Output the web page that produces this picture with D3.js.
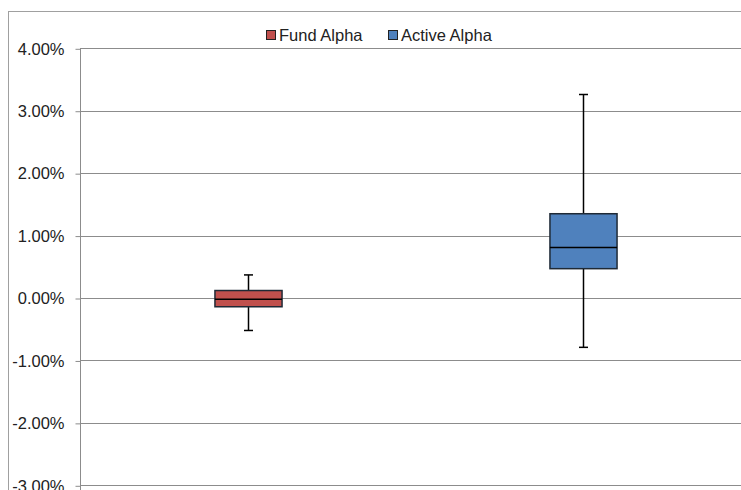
<!DOCTYPE html>
<html>
<head>
<meta charset="utf-8">
<script src="https://cdn.jsdelivr.net/npm/d3@7"></script>
<style>
  body { margin: 0; background: #fff; }
  svg { display: block; font-family: "Liberation Sans", Arial, sans-serif; }
</style>
</head>
<body>
<div id="chart"><svg width="741" height="490"></svg></div>
<script>
// data, in percent
const categories = ["Fund Alpha", "Active Alpha"];
const colors = ["#C0504D", "#4F81BD"];
const whiskerLow = [-0.52, -0.79];
const boxLow = [-0.14, 0.47];
const medians = [-0.02, 0.81];
const boxHigh = [0.12, 1.35];
const whiskerHigh = [0.37, 3.26];
const yTicks = [-3, -2, -1, 0, 1, 2, 3, 4];

var svg = d3.select('#chart').select('svg');

var plot = {left: 80, right: 751, top: 48.3, bottom: 485.3};

var x = d3.scaleBand()
    .domain(categories)
    .range([plot.left, plot.right]);

var y = d3.scaleLinear()
    .domain([-3, 4])
    .range([plot.bottom, plot.top]);

// outer frame
svg.append('rect')
    .attr('x', 8.5).attr('y', 11.5)
    .attr('width', 760).attr('height', 500)
    .attr('fill', 'none')
    .attr('stroke', '#a0a0a0');

// gridlines
svg.append('g').selectAll('line').data(yTicks).join('line')
    .attr('x1', plot.left).attr('x2', 741)
    .attr('y1', d => Math.round(y(d)) + 0.5)
    .attr('y2', d => Math.round(y(d)) + 0.5)
    .attr('stroke', '#8c8c8c');

// y axis
var yAxis = d3.axisLeft(y)
    .tickValues(yTicks)
    .tickSize(5)
    .tickFormat(d => d.toFixed(2) + '%');

var ag = svg.append('g')
    .attr('transform', 'translate(' + (plot.left + 0.5) + ',0.5)')
    .call(yAxis);
ag.select('.domain').attr('stroke', '#8c8c8c').attr('d', 'M0,' + plot.top + 'V490');
ag.selectAll('.tick line').attr('stroke', '#8c8c8c');
ag.selectAll('.tick text')
    .attr('x', -16)
    .attr('fill', '#222')
    .style('font-size', '16.5px')
    .style('font-family', '"Liberation Sans", Arial, sans-serif');

// boxes
var boxes = categories.map((c, i) => ({
    name: c, color: colors[i],
    lo: whiskerLow[i], q1: boxLow[i], med: medians[i], q3: boxHigh[i], hi: whiskerHigh[i]
}));

var bw = x.bandwidth() * 0.2;
var g = svg.append('g').selectAll('g').data(boxes).join('g');

var cx = d => Math.round(x(d.name) + x.bandwidth() / 2) + 0.5;

g.append('line')
    .attr('x1', cx).attr('x2', cx)
    .attr('y1', d => y(d.hi)).attr('y2', d => y(d.lo))
    .attr('stroke', '#000').attr('stroke-width', 1.5);

g.selectAll('.cap').data(d => [d.hi, d.lo].map(v => ({v: v, d: d}))).join('line')
    .attr('x1', e => cx(e.d) - 4.5).attr('x2', e => cx(e.d) + 4.5)
    .attr('y1', e => y(e.v)).attr('y2', e => y(e.v))
    .attr('stroke', '#000').attr('stroke-width', 1.5);

g.append('rect')
    .attr('x', d => cx(d) - bw / 2)
    .attr('y', d => y(d.q3))
    .attr('width', bw)
    .attr('height', d => y(d.q1) - y(d.q3))
    .attr('fill', d => d.color)
    .attr('stroke', '#1f2a36').attr('stroke-width', 1.5);

g.append('line')
    .attr('x1', d => cx(d) - bw / 2).attr('x2', d => cx(d) + bw / 2)
    .attr('y1', d => y(d.med)).attr('y2', d => y(d.med))
    .attr('stroke', '#000').attr('stroke-width', 1.5);

// legend
var legend = svg.append('g').attr('transform', 'translate(266,35)');
categories.forEach((c, i) => {
    var item = legend.append('g').attr('transform', 'translate(' + (i * 122) + ',0)');
    item.append('rect')
        .attr('x', 0.5).attr('y', -4.5)
        .attr('width', 9).attr('height', 9)
        .attr('fill', colors[i]).attr('stroke', '#222');
    item.append('text')
        .attr('x', 13).attr('y', 0)
        .attr('dy', '0.35em')
        .attr('fill', '#222')
        .style('font-size', '16.5px')
        .text(c);
});
</script>
</body>
</html>
